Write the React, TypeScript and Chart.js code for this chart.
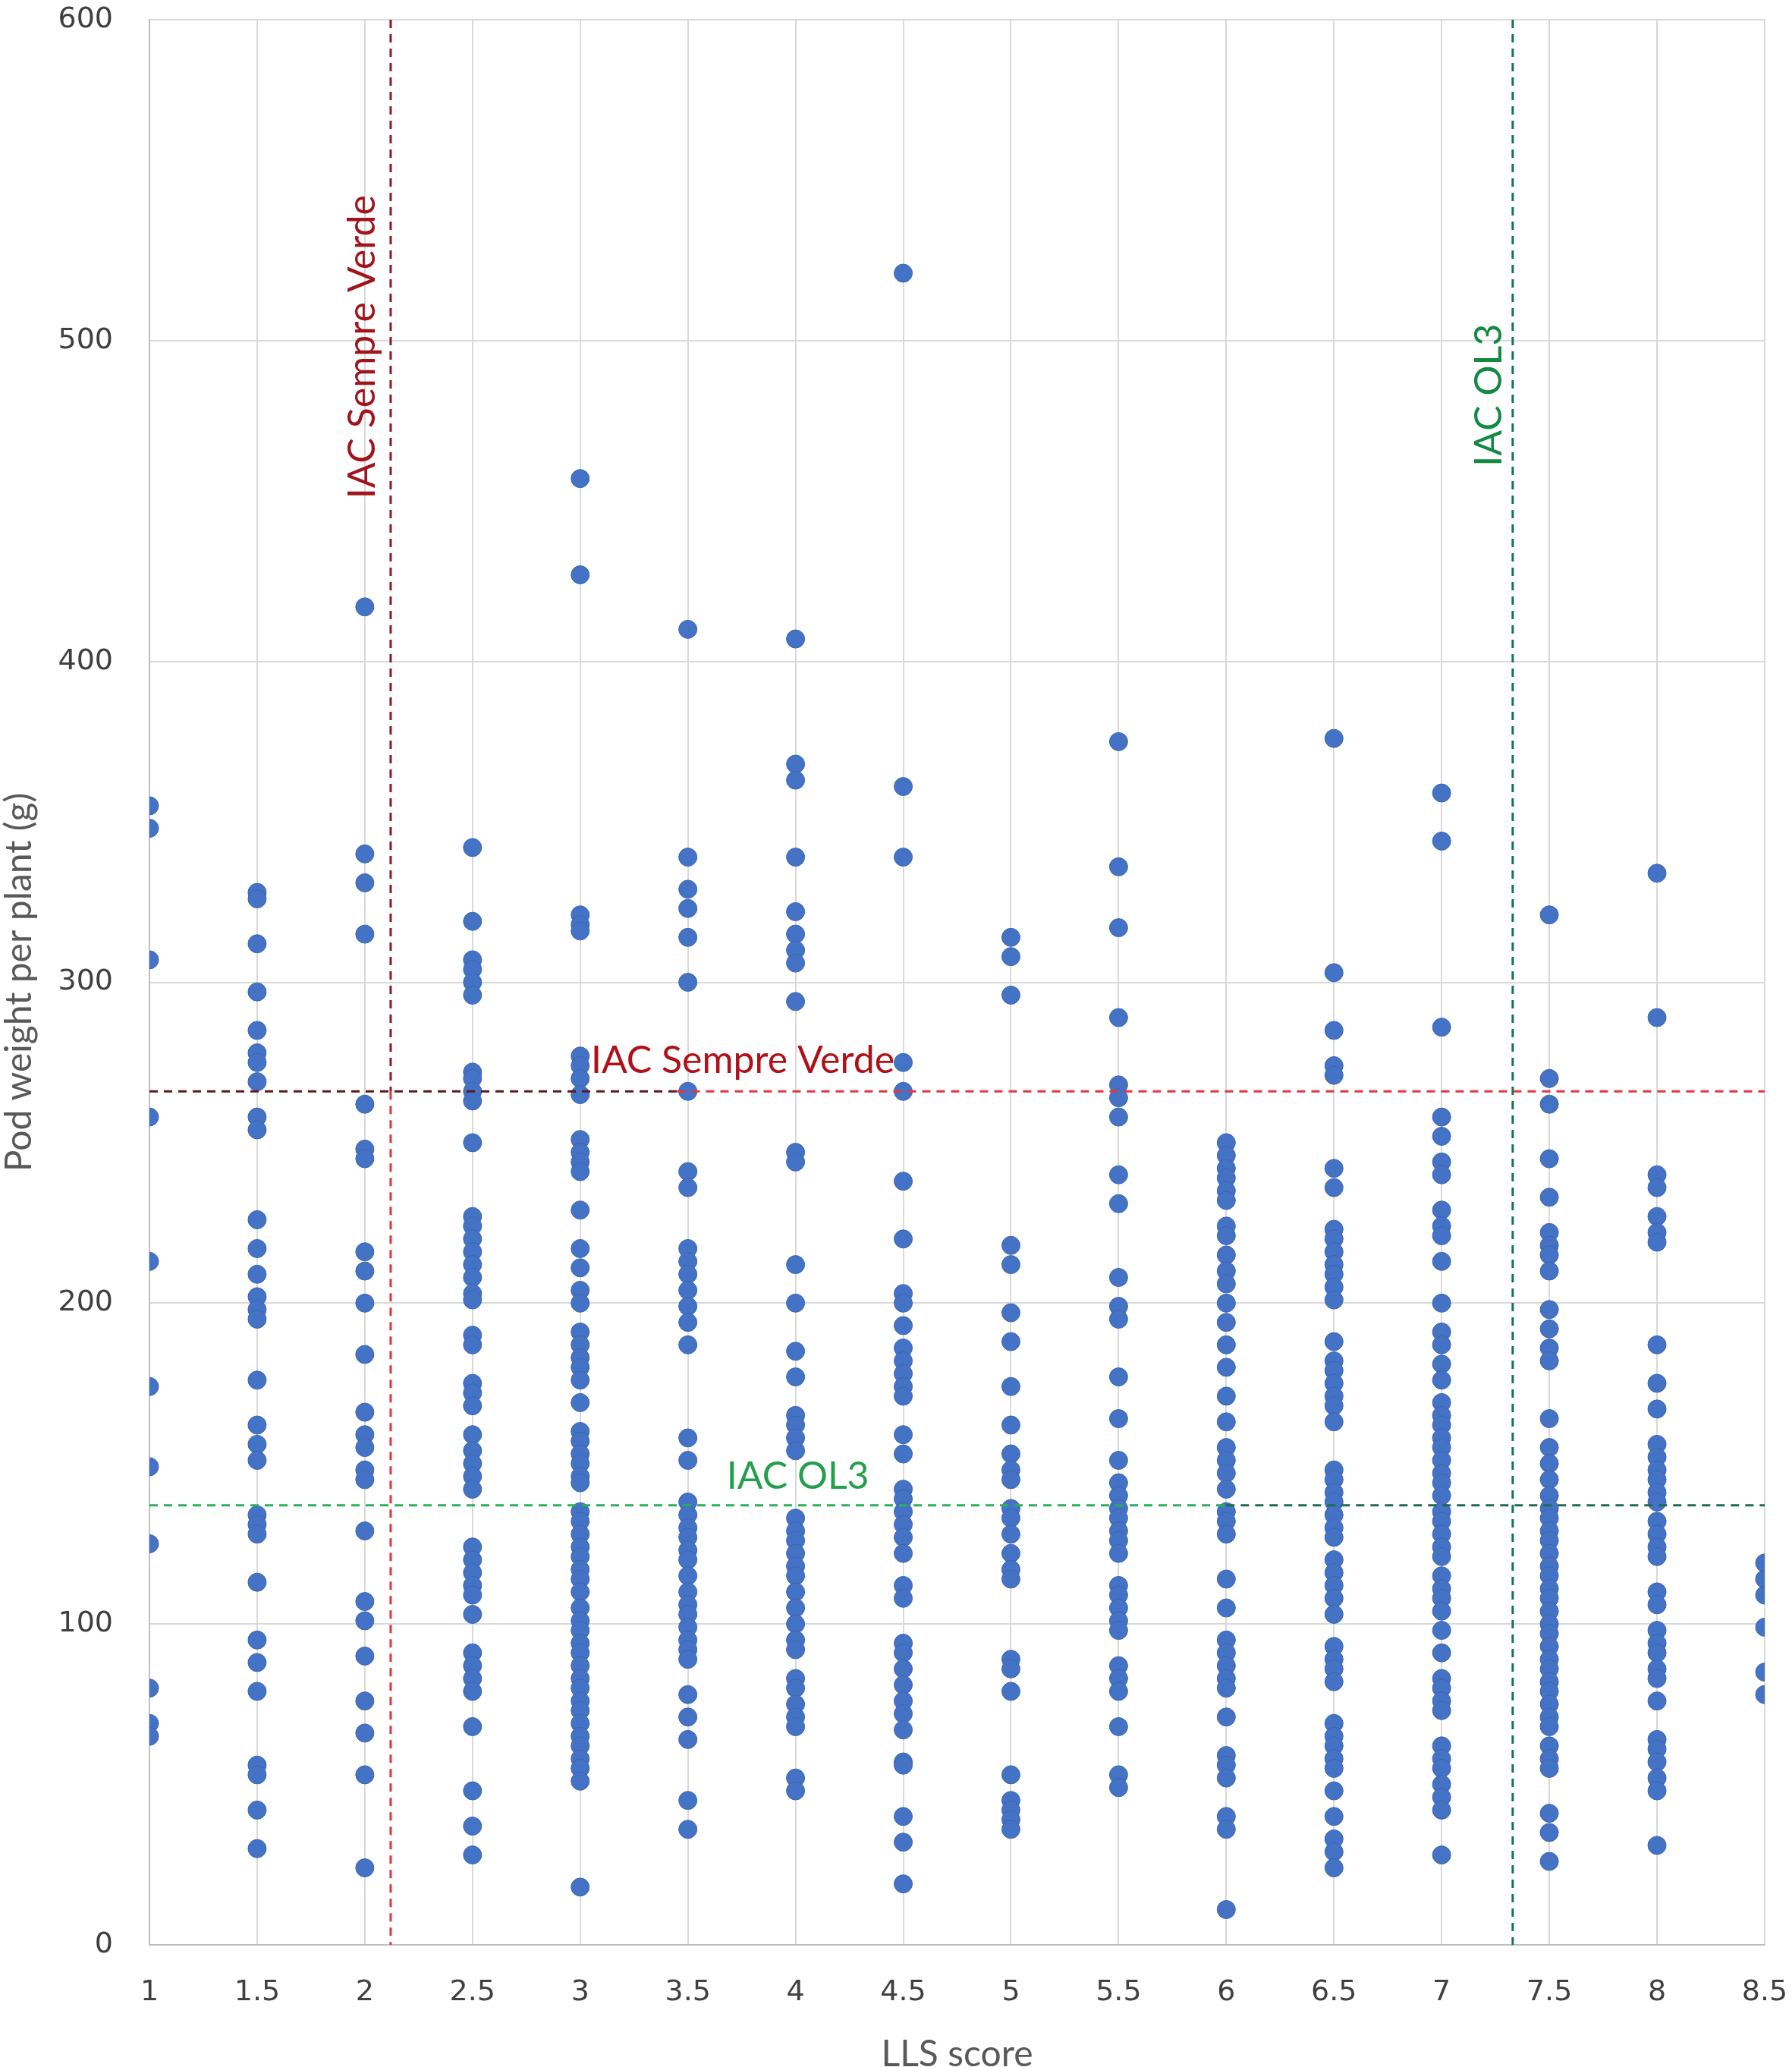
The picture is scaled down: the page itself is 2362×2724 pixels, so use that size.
import { useEffect, useRef } from 'react';
import { Chart, ChartConfiguration, Plugin, registerables } from 'chart.js';

Chart.register(...registerables);

// LLS score columns and the pod weights (g) read for each one
const llsScores = [1, 1.5, 2, 2.5, 3, 3.5, 4, 4.5, 5, 5.5, 6, 6.5, 7, 7.5, 8, 8.5];

const podAt1 = [355, 348, 307, 258, 213, 174, 149, 125, 80, 69, 65];
const podAt1_5 = [328, 326, 312, 297, 285, 278, 275, 269, 258, 254, 226, 217, 209, 202, 198, 195, 176, 162, 156, 151, 134, 131, 128, 113, 95, 88, 79, 56, 53, 42, 30];
const podAt2 = [417, 340, 331, 315, 262, 248, 245, 216, 210, 200, 184, 166, 159, 155, 148, 145, 129, 107, 101, 90, 76, 66, 53, 24];
const podAt2_5 = [342, 319, 307, 304, 300, 296, 272, 270, 266, 263, 250, 227, 224, 220, 216, 212, 208, 203, 201, 190, 187, 175, 172, 168, 159, 154, 150, 146, 142, 124, 120, 116, 112, 109, 103, 91, 87, 83, 79, 68, 48, 37, 28];
const podAt3 = [457, 427, 321, 318, 316, 277, 274, 270, 265, 251, 247, 244, 241, 229, 217, 211, 204, 200, 191, 187, 183, 180, 176, 169, 160, 157, 153, 150, 146, 144, 135, 132, 128, 124, 121, 117, 114, 110, 105, 101, 98, 94, 91, 87, 83, 80, 76, 73, 69, 65, 62, 58, 55, 51, 18];
const podAt3_5 = [410, 339, 329, 323, 314, 300, 266, 241, 236, 217, 213, 209, 204, 199, 194, 187, 158, 151, 138, 134, 130, 127, 123, 120, 115, 110, 106, 103, 99, 95, 92, 89, 78, 71, 64, 45, 36];
const podAt4 = [407, 368, 363, 339, 322, 315, 310, 306, 294, 247, 244, 212, 200, 185, 177, 165, 162, 158, 154, 133, 129, 126, 122, 118, 115, 110, 105, 100, 95, 92, 83, 80, 75, 71, 68, 52, 48];
const podAt4_5 = [521, 361, 339, 275, 266, 238, 220, 203, 200, 193, 186, 182, 178, 174, 171, 159, 153, 142, 139, 135, 131, 127, 122, 112, 108, 94, 91, 86, 81, 76, 72, 67, 57, 56, 40, 32, 19];
const podAt5 = [314, 308, 296, 218, 212, 197, 188, 174, 162, 153, 148, 145, 136, 133, 128, 122, 117, 114, 89, 86, 79, 53, 45, 42, 39, 36];
const podAt5_5 = [375, 336, 317, 289, 268, 264, 258, 240, 231, 208, 199, 195, 177, 164, 151, 144, 140, 136, 133, 129, 126, 122, 112, 109, 105, 101, 98, 87, 83, 79, 68, 53, 49];
const podAt6 = [250, 246, 242, 239, 235, 232, 224, 221, 215, 210, 206, 200, 194, 187, 180, 171, 163, 155, 151, 147, 142, 135, 132, 128, 114, 105, 95, 91, 87, 83, 80, 71, 59, 56, 52, 40, 36, 11];
const podAt6_5 = [376, 303, 285, 274, 271, 242, 236, 223, 220, 216, 212, 209, 205, 201, 188, 182, 179, 175, 171, 168, 163, 148, 145, 141, 138, 134, 130, 127, 120, 116, 112, 108, 103, 93, 89, 86, 82, 69, 65, 62, 58, 55, 48, 40, 33, 29, 24];
const podAt7 = [359, 344, 286, 258, 252, 244, 240, 229, 224, 221, 213, 200, 191, 187, 181, 176, 169, 165, 162, 158, 155, 151, 147, 144, 140, 135, 132, 128, 124, 121, 115, 111, 108, 104, 98, 91, 83, 80, 76, 73, 62, 58, 55, 50, 46, 42, 28];
const podAt7_5 = [321, 270, 262, 245, 233, 222, 218, 215, 210, 198, 192, 186, 182, 164, 155, 150, 145, 140, 136, 133, 129, 126, 122, 118, 115, 111, 108, 104, 100, 97, 93, 89, 86, 82, 79, 75, 71, 68, 62, 58, 55, 41, 35, 26];
const podAt8 = [334, 289, 240, 236, 227, 222, 219, 187, 175, 167, 156, 152, 148, 145, 141, 138, 132, 128, 124, 121, 110, 106, 98, 94, 91, 86, 83, 76, 64, 61, 57, 52, 48, 31];
const podAt8_5 = [119, 114, 109, 99, 85, 78];

const podByScore = [
  podAt1, podAt1_5, podAt2, podAt2_5, podAt3, podAt3_5, podAt4, podAt4_5,
  podAt5, podAt5_5, podAt6, podAt6_5, podAt7, podAt7_5, podAt8, podAt8_5,
];

// reference cultivars: LLS score and pod weight
const sempreVerdeLls = 2.12;
const sempreVerdePod = 266;
const ol3Lls = 7.33;
const ol3Pod = 137;

const xTicks = { min: 1, max: 8.5, step: 0.5 };
const yTicks = { min: 0, max: 600, step: 100 };

const points = llsScores.flatMap((score, i) => podByScore[i].map((w) => ({ x: score, y: w })));

const dash = [11, 8];

function refLine(data: { x: number; y: number }[], color: string) {
  return {
    type: 'line' as const,
    data,
    borderColor: color,
    borderWidth: 3,
    borderDash: dash,
    pointRadius: 0,
    fill: false,
    order: 1,
  };
}

// text labels next to the reference lines
const labelPlugin: Plugin = {
  id: 'refLabels',
  afterDatasetsDraw(chart) {
    const { ctx } = chart;
    const x = chart.scales.x;
    const y = chart.scales.y;
    ctx.save();
    ctx.font = '50px Lato';
    ctx.textBaseline = 'middle';

    // horizontal labels
    ctx.textAlign = 'left';
    ctx.fillStyle = '#b01119';
    ctx.fillText('IAC Sempre Verde', x.getPixelForValue(3.05), y.getPixelForValue(275.5));
    ctx.fillStyle = '#23a04c';
    ctx.fillText('IAC OL3', x.getPixelForValue(3.68), y.getPixelForValue(146));

    // vertical labels
    ctx.textAlign = 'center';
    ctx.save();
    ctx.translate(x.getPixelForValue(1.99), y.getPixelForValue(498));
    ctx.rotate(-Math.PI / 2);
    ctx.fillStyle = '#a0141c';
    ctx.fillText('IAC Sempre Verde', 0, 0);
    ctx.restore();

    ctx.save();
    ctx.translate(x.getPixelForValue(7.22), y.getPixelForValue(483));
    ctx.rotate(-Math.PI / 2);
    ctx.fillStyle = '#138a43';
    ctx.fillText('IAC OL3', 0, 0);
    ctx.restore();

    ctx.restore();
  },
};

export default function App() {
  const canvasRef = useRef<HTMLCanvasElement>(null);
  const chartRef = useRef<Chart | null>(null);

  useEffect(() => {
    if (!canvasRef.current) return;
    if (chartRef.current) chartRef.current.destroy();

    const ctx = canvasRef.current.getContext('2d');
    if (!ctx) return;

    const config: ChartConfiguration = {
      type: 'scatter',
      data: {
        datasets: [
          refLine([{ x: sempreVerdeLls, y: yTicks.max }, { x: sempreVerdeLls, y: sempreVerdePod }], '#8e1b22'),
          refLine([{ x: sempreVerdeLls, y: sempreVerdePod }, { x: sempreVerdeLls, y: yTicks.min }], '#e3343c'),
          refLine([{ x: xTicks.min, y: sempreVerdePod }, { x: 3.45, y: sempreVerdePod }], '#5c1a1e'),
          refLine([{ x: 3.45, y: sempreVerdePod }, { x: xTicks.max, y: sempreVerdePod }], '#e8343c'),
          refLine([{ x: xTicks.min, y: ol3Pod }, { x: 6, y: ol3Pod }], '#2dae5a'),
          refLine([{ x: 6, y: ol3Pod }, { x: xTicks.max, y: ol3Pod }], '#1d6b52'),
          refLine([{ x: ol3Lls, y: yTicks.max }, { x: ol3Lls, y: yTicks.min }], '#17744a'),
          {
            type: 'scatter',
            label: 'Pod weight',
            data: points,
            backgroundColor: '#4472c4',
            borderColor: '#3c66b4',
            borderWidth: 1,
            pointRadius: 12,
            order: 2,
          },
        ],
      },
      options: {
        responsive: true,
        maintainAspectRatio: false,
        animation: false,
        layout: {
          padding: { top: 26, right: 36, left: 0, bottom: 0 },
        },
        plugins: {
          legend: { display: false },
          tooltip: { enabled: false },
        },
        scales: {
          x: {
            type: 'linear',
            min: xTicks.min,
            max: xTicks.max,
            afterFit: (scale) => {
              scale.height = 161;
              scale.paddingRight = 0;
              scale.paddingLeft = 0;
            },
            ticks: {
              stepSize: xTicks.step,
              padding: 40,
              color: '#404040',
              font: { family: 'DejaVu Sans', size: 38 },
              callback: (v) => String(v),
            },
            grid: { color: '#d9d9d9', lineWidth: 2, drawTicks: false },
            border: { color: '#bfbfbf', width: 2 },
            title: {
              display: true,
              text: 'LLS score',
              color: '#595959',
              font: { family: 'Lato', size: 48, lineHeight: 1.2 },
              padding: { top: 0, bottom: -12 },
            },
          },
          y: {
            type: 'linear',
            min: yTicks.min,
            max: yTicks.max,
            afterFit: (scale) => {
              scale.width = 197;
              scale.paddingTop = 0;
              scale.paddingBottom = 0;
            },
            ticks: {
              stepSize: yTicks.step,
              padding: 48,
              color: '#404040',
              font: { family: 'DejaVu Sans', size: 38 },
            },
            grid: { color: '#d9d9d9', lineWidth: 2, drawTicks: false },
            border: { color: '#bfbfbf', width: 2 },
            title: {
              display: true,
              text: 'Pod weight per plant (g)',
              color: '#595959',
              font: { family: 'Lato', size: 48, lineHeight: 1.2 },
              padding: { top: -3, bottom: 0 },
            },
          },
        },
      },
      plugins: [labelPlugin],
    };

    chartRef.current = new Chart(ctx, config);

    return () => {
      if (chartRef.current) {
        chartRef.current.destroy();
        chartRef.current = null;
      }
    };
  }, []);

  return (
    <div style={{ position: 'absolute', left: 0, top: 0, width: '2362px', height: '2724px', background: '#fff' }}>
      <canvas ref={canvasRef}></canvas>
    </div>
  );
}
